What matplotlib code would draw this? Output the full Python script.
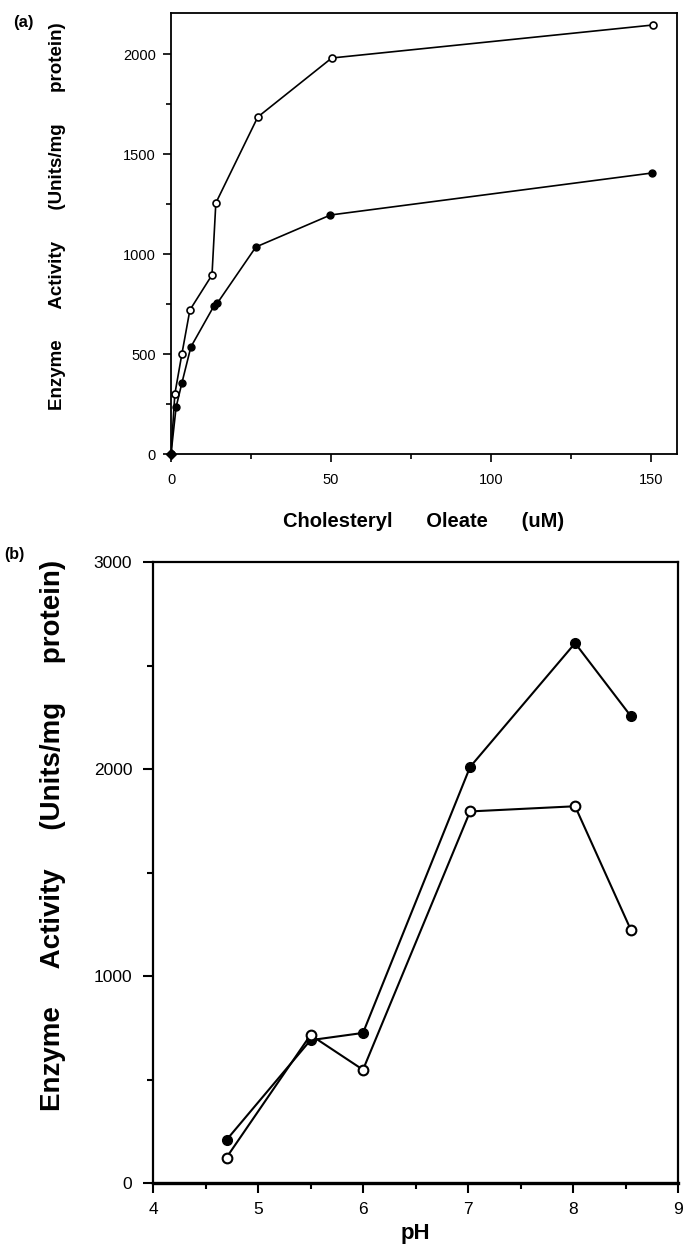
import matplotlib.pyplot as plt
from matplotlib.ticker import MultipleLocator

# panel (a): activity vs substrate concentration
oleate_open = [0, 1.2, 3.4, 5.9, 12.8, 14.0, 27.1, 50.2, 150.5]
activity_open = [0, 300, 500, 720, 895, 1255, 1685, 1980, 2145]
oleate_filled = [0, 1.6, 3.4, 6.2, 13.4, 14.5, 26.5, 49.8, 150.2]
activity_filled = [0, 235, 355, 535, 740, 755, 1035, 1195, 1405]

# panel (b): activity vs pH
ph = [4.7, 5.5, 6.0, 7.02, 8.02, 8.55]
ph_filled = [208, 690, 725, 2010, 2608, 2256]
ph_open = [123, 715, 547, 1795, 1820, 1224]

bold = dict(family=["Liberation Sans", "DejaVu Sans"], fontweight="bold")
plain = ["Liberation Sans", "DejaVu Sans"]
narrow = ["Liberation Sans Narrow", "Liberation Sans", "DejaVu Sans"]
ylab = "Enzyme      Activity      (Units/mg      protein)"

fig = plt.figure(figsize=(6.84, 12.51), dpi=100)

# ---- (a)
ax1 = fig.add_axes([171 / 684, 1 - 454 / 1251, 506 / 684, 441 / 1251])
ax1.plot(oleate_open, activity_open, color="black", lw=1.2, marker="o",
         ms=5, mfc="white", mec="black", mew=1.2, zorder=3)
ax1.plot(oleate_filled, activity_filled, color="black", lw=1.2, marker="o",
         ms=5, mfc="black", mec="black", zorder=3)
ax1.plot(oleate_filled[:1], activity_filled[:1], "D", color="black", ms=5,
         zorder=4, clip_on=False)
ax1.set_xlim(0, 158)
ax1.set_ylim(0, 2205)
ax1.xaxis.set_major_locator(MultipleLocator(50))
ax1.xaxis.set_minor_locator(MultipleLocator(25))
ax1.yaxis.set_major_locator(MultipleLocator(500))
ax1.yaxis.set_minor_locator(MultipleLocator(250))
ax1.tick_params(which="major", length=6, width=1.2, direction="out", labelsize=10.5, pad=8)
ax1.tick_params(which="minor", length=3.5, width=1.2, direction="out")
ax1.tick_params(axis="y", which="major", pad=5)
for lab in ax1.get_xticklabels() + ax1.get_yticklabels():
    lab.set_family(plain)
for sp in ax1.spines.values():
    sp.set_linewidth(1.3)
ax1.set_xlabel("Cholesteryl      Oleate      (uM)", fontsize=14.5, labelpad=18, **bold)
ax1.set_ylabel(ylab, fontsize=13.5, **bold)
ax1.yaxis.set_label_coords(-0.208, 0.54)
fig.text(13 / 684, 1 - 23 / 1251, "(a)", fontsize=12, va="center", **bold)

# ---- (b)
ax2 = fig.add_axes([153 / 684, 1 - 1183 / 1251, 525 / 684, 621 / 1251])
ax2.plot(ph, ph_filled, color="black", lw=1.5, marker="o", ms=7,
         mfc="black", mec="black", zorder=3)
ax2.plot(ph, ph_open, color="black", lw=1.5, marker="o", ms=7,
         mfc="white", mec="black", mew=1.5, zorder=3)
ax2.set_xlim(4, 9)
ax2.set_ylim(0, 3000)
ax2.xaxis.set_major_locator(MultipleLocator(1))
ax2.xaxis.set_minor_locator(MultipleLocator(0.5))
ax2.yaxis.set_major_locator(MultipleLocator(1000))
ax2.yaxis.set_minor_locator(MultipleLocator(500))
ax2.tick_params(axis="x", which="major", length=7.5, width=1.5, direction="out", labelsize=12.5, pad=6.5)
ax2.tick_params(axis="x", which="minor", length=4.5, width=1.5, direction="out")
ax2.tick_params(axis="y", which="major", length=7.5, width=1.5, direction="out", labelsize=12.5, pad=7.5)
ax2.tick_params(axis="y", which="minor", length=4, width=1.5, direction="out")
for lab in ax2.get_xticklabels() + ax2.get_yticklabels():
    lab.set_family(narrow)
ax2.spines["left"].set_linewidth(1.6)
ax2.spines["bottom"].set_linewidth(2.4)
ax2.spines["top"].set_linewidth(1.6)
ax2.spines["right"].set_linewidth(1.6)
ax2.set_xlabel("pH", fontsize=16, labelpad=4, **bold)
ax2.set_ylabel(ylab.replace("      ", "     "), fontsize=20, **bold)
ax2.yaxis.set_label_coords(-0.165, 0.56)
fig.text(4 / 684, 1 - 555 / 1251, "(b)", fontsize=11.5, va="center", **bold)

fig.savefig("out.png", dpi=100)
